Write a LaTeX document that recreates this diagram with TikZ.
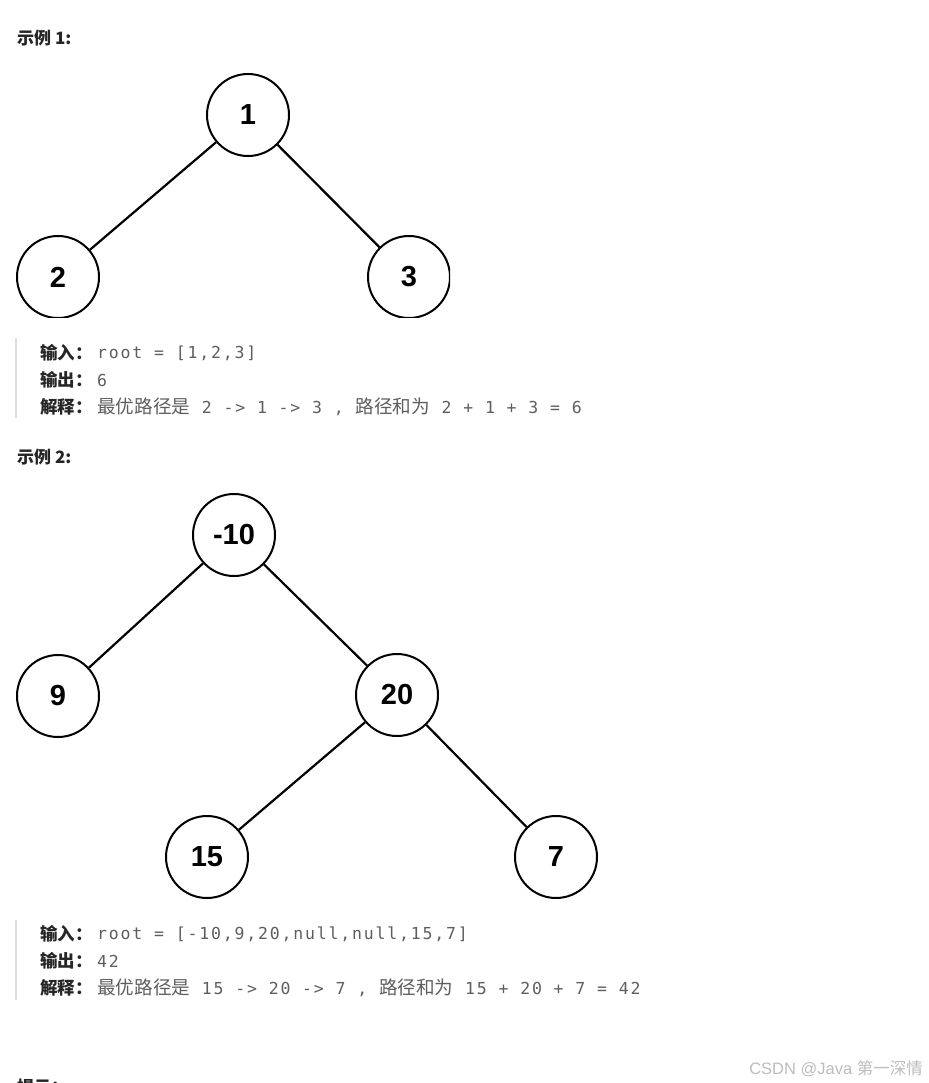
\documentclass[tikz,border=0pt]{standalone}
\usepackage{fontspec}
\setmainfont{Liberation Sans}
\newfontfamily\cjk{Noto Sans CJK SC}
\newfontfamily\codefont[LetterSpace=11]{DejaVu Sans Mono}
\newcommand\cnv[1]{{\cjk\fontsize{18.6}{18.6}\selectfont #1}}

\definecolor{headcol}{HTML}{262626}
\definecolor{valcol}{HTML}{5E5E5E}
\definecolor{barcol}{HTML}{DDDDDD}
\definecolor{wmcol}{HTML}{BDBDBD}

\begin{document}
\begin{tikzpicture}[x=1pt,y=-1pt,
  treenode/.style={circle,draw,line width=2pt,minimum size=82pt,inner sep=0pt,
    font=\fontsize{29}{29}\selectfont\bfseries},
  treeedge/.style={line width=2.2pt},
  exhead/.style={anchor=west,inner sep=0pt,text=headcol,
    font=\cjk\bfseries\fontsize{17}{17}\selectfont},
  fieldname/.style={anchor=west,inner sep=0pt,text=headcol,
    font=\cjk\bfseries\fontsize{17.5}{17.5}\selectfont},
  fieldval/.style={anchor=west,inner sep=0pt,text=valcol,
    font=\codefont\fontsize{16.5}{16.5}\selectfont},
  quotebar/.style={barcol,line width=2pt},
  watermark/.style={anchor=east,inner sep=0pt,text=wmcol,
    font=\fontsize{16.5}{16.5}\selectfont}]
  \fill[white] (0,0) rectangle (928,1083);
  \useasboundingbox (0,0) rectangle (928,1083);

  % example 1
  \node[exhead] (head1) at (17,38) {示例 1:};
  \begin{scope}
    \clip (0,70) rectangle (450,317);
    \node[treenode] (a1) at (248,115) {1};
    \node[treenode] (a2) at (58,277) {2};
    \node[treenode] (a3) at (409,277) {3};
    \draw[treeedge] (a1) -- (a2);
    \draw[treeedge] (a1) -- (a3);
  \end{scope}
  \draw[quotebar] (16,338) -- (16,418);
  \node[fieldname] (in1) at (40,353) {输入：};
  \node[fieldval] (in1v) at (97,353) {root = [1,2,3]};
  \node[fieldname] (out1) at (40,380) {输出：};
  \node[fieldval] (out1v) at (97,380) {6};
  \node[fieldname] (why1) at (40,407) {解释：};
  \node[fieldval] (why1v) at (97,407)
    {\cnv{最优路径是} 2 -> 1 -> 3 , \cnv{路径和为} 2 + 1 + 3 = 6};

  % example 2
  \node[exhead] (head2) at (17,457) {示例 2:};
  \node[treenode] (b1) at (234,535) {-10};
  \node[treenode] (b2) at (58,696) {9};
  \node[treenode] (b3) at (397,695) {20};
  \node[treenode] (b4) at (207,857) {15};
  \node[treenode] (b5) at (556,857) {7};
  \draw[treeedge] (b1) -- (b2);
  \draw[treeedge] (b1) -- (b3);
  \draw[treeedge] (b3) -- (b4);
  \draw[treeedge] (b3) -- (b5);
  \draw[quotebar] (16,920) -- (16,1000);
  \node[fieldname] (in2) at (40,934) {输入：};
  \node[fieldval] (in2v) at (97,934) {root = [-10,9,20,null,null,15,7]};
  \node[fieldname] (out2) at (40,961) {输出：};
  \node[fieldval] (out2v) at (97,961) {42};
  \node[fieldname] (why2) at (40,988) {解释：};
  \node[fieldval] (why2v) at (97,988)
    {\cnv{最优路径是} 15 -> 20 -> 7 , \cnv{路径和为} 15 + 20 + 7 = 42};

  % footer
  \node[watermark] (wm) at (923,1069) {CSDN @Java {\cjk 第一深情}};
  \node[exhead] (tips) at (17,1087) {提示：};
\end{tikzpicture}
\end{document}
